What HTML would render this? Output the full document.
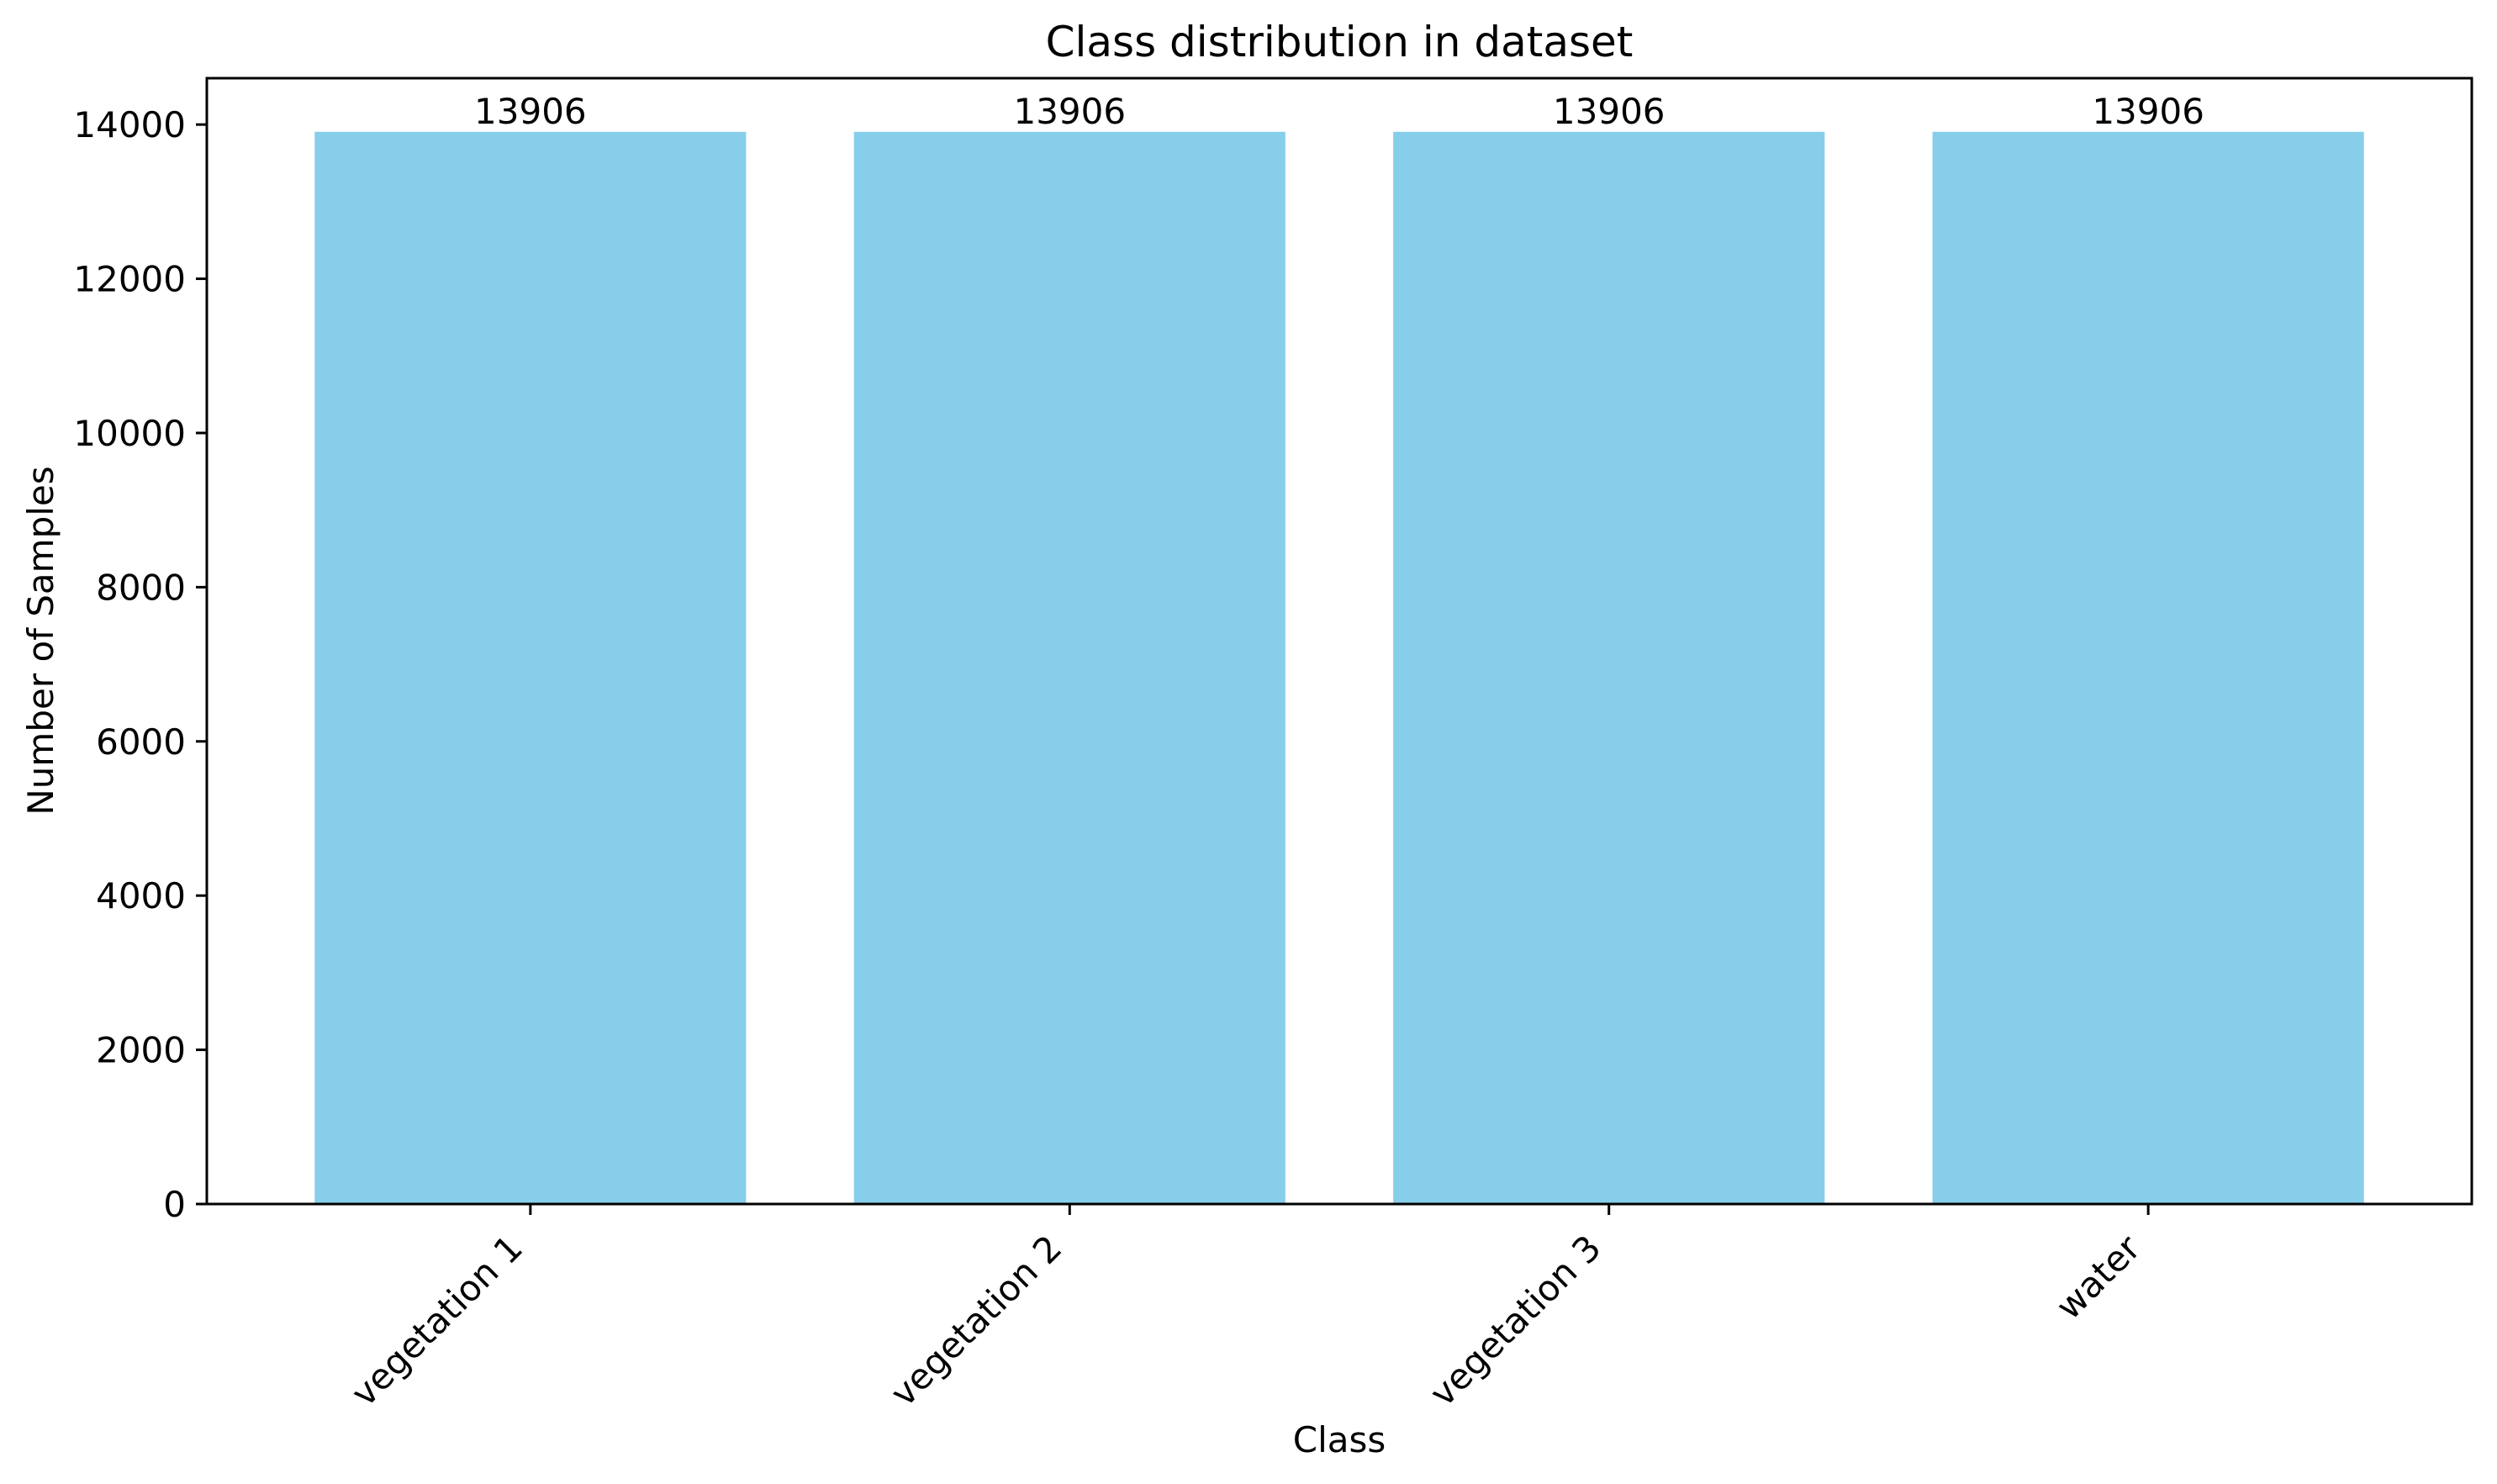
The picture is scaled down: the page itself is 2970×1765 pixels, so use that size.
<!DOCTYPE html>
<html><head><meta charset="utf-8"><style>
html,body{margin:0;padding:0;background:#fff;}
svg{display:block;font-family:"DejaVu Sans","Liberation Sans",sans-serif;}
</style></head><body>
<svg id="chart" width="2970" height="1765" viewBox="0 0 2970 1765" xmlns="http://www.w3.org/2000/svg">
<rect width="2970" height="1765" fill="#fff"/>
<text x="1593" y="67" font-size="50" text-anchor="middle">Class distribution in dataset</text>
<text transform="translate(63,762) rotate(-90)" font-size="42" text-anchor="middle">Number of Samples</text>
<text x="1593" y="1727" font-size="42" text-anchor="middle">Class</text>
<g id="bars"></g>
<g id="yticks"></g>
<g id="xticks"></g>
<rect x="246" y="93" width="2694" height="1339" fill="none" stroke="#000" stroke-width="3"/>
</svg>
<script>
const categories = ["vegetation 1", "vegetation 2", "vegetation 3", "water"];
const counts = [13906, 13906, 13906, 13906];
const yTicks = [0, 2000, 4000, 6000, 8000, 10000, 12000, 14000];

const NS = "http://www.w3.org/2000/svg";
const L = 246, R = 2940, T = 93, B = 1432;
const xMin = -0.6, xMax = categories.length - 0.4;
const yMax = Math.max(...counts) * 1.05;
const xs = v => L + (v - xMin) / (xMax - xMin) * (R - L);
const ys = v => B - v / yMax * (B - T);
const unit = (R - L) / (xMax - xMin);

function mk(tag, attrs, parent, text) {
  const e = document.createElementNS(NS, tag);
  for (const k in attrs) e.setAttribute(k, attrs[k]);
  if (text !== undefined) e.textContent = text;
  parent.appendChild(e);
  return e;
}
const gb = document.getElementById("bars");
const gy = document.getElementById("yticks");
const gx = document.getElementById("xticks");

categories.forEach((c, i) => {
  const w = 0.8 * unit;
  const bar = mk("rect", {x: xs(i) - w / 2, y: ys(counts[i]), width: w, height: B - ys(counts[i]), fill: "#87ceeb"}, gb);
  
  
  const lbl = mk("text", {x: xs(i), y: ys(counts[i]) - 10, "font-size": 42, "text-anchor": "middle"}, gb, String(counts[i]));
  
  
  const tk = mk("line", {x1: xs(i), x2: xs(i), y1: B, y2: B + 13, stroke: "#000", "stroke-width": 3}, gx);
  
  
  const px = xs(i) - 7, py = 1487;
  const tl = mk("text", {x: px, y: py, "font-size": 42, "text-anchor": "end", transform: `rotate(-45 ${px} ${py})`}, gx, c);
  
  
});

yTicks.forEach(v => {
  const y = ys(v);
  const tk = mk("line", {x1: L - 13, x2: L, y1: y, y2: y, stroke: "#000", "stroke-width": 3}, gy);
  
  
  const tl = mk("text", {x: L - 25, y: y + 15, "font-size": 42, "text-anchor": "end"}, gy, String(v));
  
  
});
</script>
</body></html>
